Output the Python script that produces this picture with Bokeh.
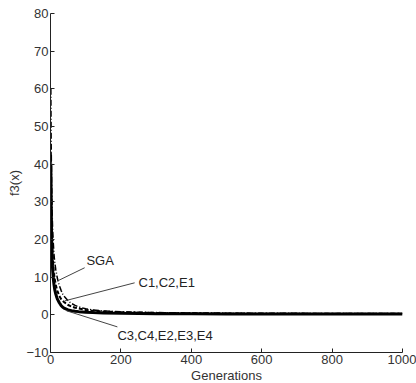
from bokeh.plotting import figure
from bokeh.models import Range1d, FixedTicker, Segment, ColumnDataSource, Label
from bokeh.embed import file_html
from bokeh.resources import INLINE

gens = [1, 2, 3, 4, 5, 6, 8, 10, 12, 15, 18, 20, 25, 30, 35, 40, 50, 60, 70, 80,
        100, 120, 150, 200, 250, 300, 400, 500, 600, 700, 800, 900, 1000]
sga = [60, 45, 36, 30, 26, 23, 19, 16, 14, 12, 10.5, 9.5, 7.8, 6.5, 5.5, 4.8, 3.7,
       3.0, 2.5, 2.1, 1.6, 1.3, 1.0, 0.8, 0.7, 0.6, 0.5, 0.45, 0.4, 0.4, 0.35, 0.35, 0.35]
c1_group = [43, 32, 25, 21, 18, 16, 13, 11, 9.5, 8, 6.8, 6.2, 5, 4.2, 3.7, 3.3, 2.6,
            2.2, 1.9, 1.7, 1.3, 1.1, 0.9, 0.7, 0.6, 0.5, 0.4, 0.35, 0.3, 0.3, 0.3, 0.3, 0.3]
c3_group = [40, 28, 21, 17, 14, 12, 9.5, 8, 6.7, 5.5, 4.6, 4.1, 3.2, 2.5, 2.0, 1.7, 1.3,
            1.1, 0.95, 0.85, 0.7, 0.6, 0.5, 0.4, 0.35, 0.3, 0.3, 0.25, 0.25, 0.25, 0.25, 0.25, 0.25]

x_ticks = [0, 200, 400, 600, 800, 1000]
y_ticks = [-10, 0, 10, 20, 30, 40, 50, 60, 70, 80]

labels = ["SGA", "C1,C2,E1", "C3,C4,E2,E3,E4"]
label_x = [102, 250, 190]
label_y = [14.3, 8.5, -5.6]
arrow_x0 = [20, 40, 45]
arrow_y0 = [9.0, 3.7, 1.1]
arrow_x1 = [97, 239, 190]
arrow_y1 = [12.5, 8.5, -3.2]

FONT = "Liberation Sans"

p = figure(width=416, height=383, output_backend="svg", toolbar_location=None,
           x_range=Range1d(0, 1000), y_range=Range1d(-10, 80),
           frame_width=352, frame_height=339,
           min_border_left=50, min_border_right=14, min_border_top=13, min_border_bottom=31)
p.outline_line_color = None
p.grid.visible = False
p.background_fill_color = "white"
p.border_fill_color = "white"

for ax in (p.xaxis[0], p.yaxis[0]):
    ax.major_tick_in = 4
    ax.major_tick_out = 0
    ax.minor_tick_line_color = None
    ax.axis_line_color = "#222222"
    ax.major_tick_line_color = "#222222"
    ax.major_label_text_font = FONT
    ax.major_label_text_font_size = "13px"
    ax.major_label_text_color = "#333333"
    ax.axis_label_text_font = FONT
    ax.axis_label_text_font_size = "13px"
    ax.axis_label_text_font_style = "normal"
    ax.axis_label_text_color = "#333333"
    ax.major_label_standoff = 2
    ax.axis_label_standoff = 1

p.xaxis.ticker = FixedTicker(ticks=x_ticks)
p.yaxis.ticker = FixedTicker(ticks=y_ticks)
p.xaxis.axis_label = "Generations"
p.yaxis.axis_label = "f3(x)"

p.line(gens, c3_group, line_color="black", line_width=3)
p.line(gens, c1_group, line_color="black", line_width=2, line_dash="4 2")
p.line(gens, sga, line_color="black", line_width=1.5, line_dash="6 2 1 2")

src = ColumnDataSource(dict(x0=arrow_x0, y0=arrow_y0, x1=arrow_x1, y1=arrow_y1))
p.add_glyph(src, Segment(x0="x0", y0="y0", x1="x1", y1="y1", line_color="#444444", line_width=1))

for t, lx, ly in zip(labels, label_x, label_y):
    p.add_layout(Label(x=lx, y=ly, text=t, text_font=FONT, text_font_size="13px",
                       text_color="#222222", text_baseline="middle", text_align="left"))

open("out.html", "w").write(file_html(p, INLINE))
